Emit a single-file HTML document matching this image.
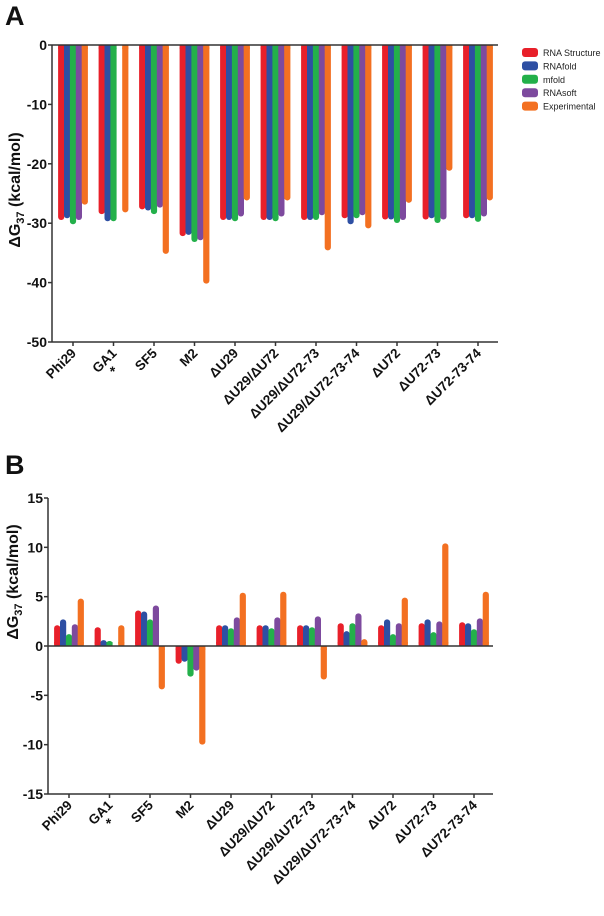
<!DOCTYPE html>
<html><head><meta charset="utf-8"><style>
body{margin:0;background:#fff;width:604px;height:916px;overflow:hidden}
svg{display:block;font-family:"Liberation Sans",Arial,sans-serif}
</style></head><body>
<svg id="chart" width="604" height="916" viewBox="0 0 604 916" xmlns="http://www.w3.org/2000/svg"></svg>
<script>
const categories=["Phi29","GA1","SF5","M2","\u0394U29","\u0394U29/\u0394U72","\u0394U29/\u0394U72-73","\u0394U29/\u0394U72-73-74","\u0394U72","\u0394U72-73","\u0394U72-73-74"];
const seriesNames=["RNA Structure","RNAfold","mfold","RNAsoft","Experimental"];
const seriesColors=["#e8202a","#2e4fa3","#23b04a","#7d4a9e","#f37021"];
const aRnaStructure=[-29.3,-28.3,-27.5,-32,-29.3,-29.3,-29.3,-29,-29.2,-29.2,-29];
const aRnafold=[-29,-29.5,-27.7,-31.8,-29.3,-29.3,-29.3,-30,-29.2,-29,-29];
const aMfold=[-30,-29.5,-28.3,-33,-29.5,-29.5,-29.3,-29,-29.8,-29.8,-29.6];
const aRnasoft=[-29.3,0,-27.2,-32.7,-28.7,-28.7,-28.5,-28.5,-29.3,-29.2,-28.7];
const aExperimental=[-26.7,-28,-35,-40,-26,-26,-34.4,-30.7,-26.4,-21,-26];
const bRnaStructure=[2,1.8,3.5,-1.7,2,2,2,2.2,2,2.2,2.3];
const bRnafold=[2.6,0.5,3.4,-1.5,2,2,2,1.4,2.6,2.6,2.2];
const bMfold=[1.1,0.4,2.6,-3,1.7,1.7,1.8,2.2,1.1,1.3,1.6];
const bRnasoft=[2.1,0,4,-2.4,2.8,2.8,2.9,3.2,2.2,2.4,2.7];
const bExperimental=[4.7,2,-4.3,-9.9,5.3,5.4,-3.3,0.6,4.8,10.3,5.4];
const aTicks=[0,-10,-20,-30,-40,-50];
const bTicks=[15,10,5,0,-5,-10,-15];

const svg=document.getElementById('chart');
const NS='http://www.w3.org/2000/svg';
function mk(tag,attrs,parent){const e=document.createElementNS(NS,tag);for(const k in attrs)e.setAttribute(k,attrs[k]);(parent||svg).appendChild(e);return e;}

function panel(cfg){
  const g=mk('g',{});
  
  
  const y=v=>cfg.y0+(v-cfg.vMax)*(cfg.yBottom-cfg.y0)/(cfg.vMin-cfg.vMax);
  const xc=i=>cfg.x0+i*cfg.step;
  const L=mk('text',{x:cfg.letterX,y:cfg.letterY,'font-size':27,'font-weight':'bold',fill:'#111'},g);L.textContent=cfg.letter;
  
  
  const t=mk('text',{transform:`translate(${cfg.titleX},${cfg.titleY}) rotate(-90)`,'text-anchor':'middle','font-size':16,'font-weight':'bold',fill:'#111'},g);
  
  
  t.innerHTML='\u0394G<tspan font-size="11" dy="4">37</tspan><tspan dy="-4"> (kcal/mol)</tspan>';
  const sers=cfg.series;
  for(let s=0;s<5;s++){
    for(let i=0;i<categories.length;i++){
      const v=sers[s][i]; if(v===0) continue;
      const cx=xc(i)+(s-2)*5.9;
      const y1=y(0),y2=y(v);
      const top=Math.min(y1,y2),h=Math.abs(y2-y1);
      const r=mk('rect',{x:cx-3.1,y:top-(v>0?1:0),width:6.2,height:h+1,rx:3,fill:seriesColors[s]},g);
      
      
      mk('rect',{x:cx-3.1,y:v>0?y1-Math.min(h,4):y1,width:6.2,height:Math.min(h,4),fill:seriesColors[s]},g);
    }
  }
  const ya=mk('line',{x1:cfg.axisX,y1:y(cfg.vMax),x2:cfg.axisX,y2:y(cfg.vMin),stroke:'#333','stroke-width':1.5},g);
  
  
  const zl=mk('line',{x1:cfg.axisX,y1:y(0),x2:cfg.axisEnd,y2:y(0),stroke:'#333','stroke-width':1.5},g);
  
  
  const xa=mk('line',{x1:cfg.axisX,y1:y(cfg.vMin),x2:cfg.axisEnd,y2:y(cfg.vMin),stroke:'#333','stroke-width':1.5},g);
  
  
  cfg.ticks.forEach(v=>{
    mk('line',{x1:cfg.axisX-4,y1:y(v),x2:cfg.axisX,y2:y(v),stroke:'#333','stroke-width':1.5},g);
    const tl=mk('text',{x:cfg.axisX-5,y:y(v)+5,'text-anchor':'end','font-size':14,'font-weight':'bold',fill:'#111'},g);
    tl.textContent=v;
    
    
  });
  const by=y(cfg.vMin);
  categories.forEach((c,i)=>{
    mk('line',{x1:xc(i),y1:by,x2:xc(i),y2:by+4,stroke:'#333','stroke-width':1.5},g);
    const tx=mk('text',{transform:`translate(${xc(i)+4},${by+12}) rotate(-45)`,'text-anchor':'end','font-size':13.5,'font-weight':'bold',fill:'#111'},g);
    tx.textContent=c;
    
    
    if(i===1){const st=mk('text',{x:xc(i)-1,y:by+34,'text-anchor':'middle','font-size':14,'font-weight':'bold',fill:'#111'},g);st.textContent='*';
      
      }
  });
}
panel({name:'panel-a',letter:'A',letterX:5,letterY:25,titleX:20,titleY:190,x0:73,step:40.5,axisX:52,axisEnd:498,y0:45,yBottom:342,vMax:0,vMin:-50,ticks:aTicks,
  series:[aRnaStructure,aRnafold,aMfold,aRnasoft,aExperimental]});
panel({name:'panel-b',letter:'B',letterX:5,letterY:474,titleX:18,titleY:582,x0:69,step:40.5,axisX:48,axisEnd:493,y0:498,yBottom:794,vMax:15,vMin:-15,ticks:bTicks,
  series:[bRnaStructure,bRnafold,bMfold,bRnasoft,bExperimental]});

const lg=mk('g',{});


seriesNames.forEach((n,s)=>{
  const e=mk('g',{},lg);
  
  
  mk('rect',{x:522,y:48+s*13.4,width:16,height:9,rx:3,fill:seriesColors[s]},e);
  const t=mk('text',{x:543,y:56+s*13.4,'font-size':9,fill:'#222'},e);t.textContent=n;
});
</script>
</body></html>
